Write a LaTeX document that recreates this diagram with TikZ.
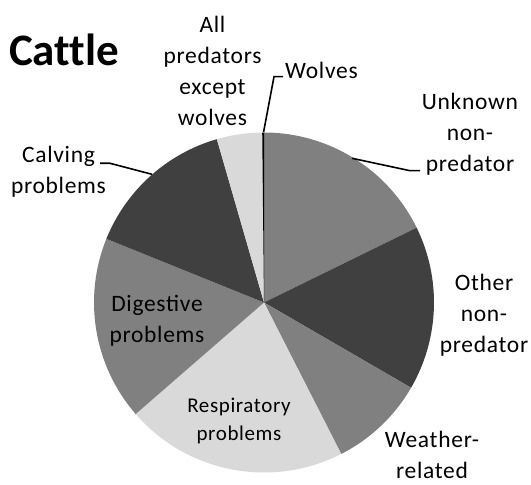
\documentclass[tikz,border=0pt]{standalone}
\usepackage{fontspec}
\setmainfont{Carlito}
\newfontfamily\spaced[LetterSpace=3]{Carlito}
\newfontfamily\titlefont[Ligatures=NoCommon]{Carlito}
\begin{document}
\begin{tikzpicture}[x=1pt,y=1pt,
  lbl/.style={align=center,inner sep=0pt,font=\spaced\fontsize{23.5}{31}\selectfont},
  small/.style={align=center,inner sep=0pt,font=\spaced\fontsize{21}{28}\selectfont},
  leader/.style={line width=1.6pt,black}]
\useasboundingbox (0,0) rectangle (531,485);
\fill[white] (0,0) rectangle (531,485);
\coordinate (c) at (264,182.5);
\def\R{170}
% slices
\fill[fill={rgb,255:red,128;green,128;blue,128}] (c) -- ++(26.1:\R) arc[start angle=26.1,end angle=90,radius=\R] -- cycle;
\fill[fill={rgb,255:red,64;green,64;blue,64}] (c) -- ++(-30.1:\R) arc[start angle=-30.1,end angle=26.1,radius=\R] -- cycle;
\fill[fill={rgb,255:red,128;green,128;blue,128}] (c) -- ++(-63:\R) arc[start angle=-63,end angle=-30.1,radius=\R] -- cycle;
\fill[fill={rgb,255:red,217;green,217;blue,217}] (c) -- ++(-139:\R) arc[start angle=-139,end angle=-63,radius=\R] -- cycle;
\fill[fill={rgb,255:red,128;green,128;blue,128}] (c) -- ++(158:\R) arc[start angle=158,end angle=221,radius=\R] -- cycle;
\fill[fill={rgb,255:red,64;green,64;blue,64}] (c) -- ++(106.1:\R) arc[start angle=106.1,end angle=158,radius=\R] -- cycle;
\fill[fill={rgb,255:red,217;green,217;blue,217}] (c) -- ++(90.6:\R) arc[start angle=90.6,end angle=106.1,radius=\R] -- cycle;
\fill[black] (c) -- ++(90:\R) arc[start angle=90,end angle=90.6,radius=\R] -- cycle;
% title
\node[inner sep=0pt,font=\titlefont\fontsize{45}{52}\selectfont\bfseries] (title) at (64,435) {Cattle};
% labels
\node[lbl] (allpred) at (212.5,414.5) {All\\predators\\except\\wolves};
\node[lbl,anchor=west] (wolves) at (285,414.5) {Wolves};
\node[lbl] (unknown) at (470,351) {Unknown\\non-\\predator};
\node[lbl] (calving) at (58.5,313) {Calving\\problems};
\node[lbl] (other) at (484,170) {Other\\non-\\predator};
\node[lbl] (weather) at (432,30) {Weather-\\related};
\node[lbl] (digestive) at (157,164) {Digestive\\problems};
\node[small] (resp) at (239,64) {Respiratory\\problems};
% leaders
\coordinate (wa) at (283,408.3);
\coordinate (wb) at (274,408.3);
\coordinate (wc) at (263.6,353);
\draw[leader] (wa) -- (wb) -- (wc);
\coordinate (ua) at (420,314.3);
\coordinate (ub) at (410,314.3);
\coordinate (uc) at (352,326.7);
\draw[leader] (ua) -- (ub) -- (uc);
\coordinate (ca) at (100,321.7);
\coordinate (cb) at (110,321.7);
\coordinate (cc) at (152,310.7);
\draw[leader] (ca) -- (cb) -- (cc);
\end{tikzpicture}
\end{document}
